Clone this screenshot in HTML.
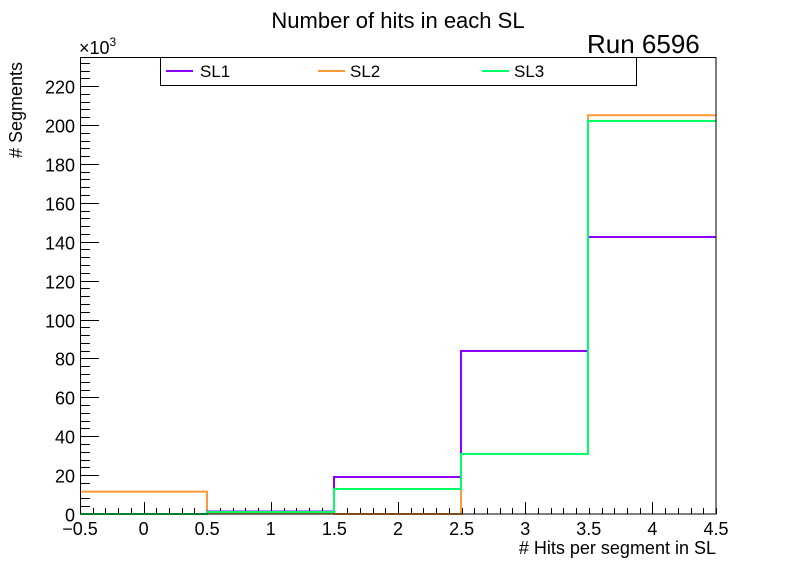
<!DOCTYPE html>
<html><head><style>body{margin:0;background:#fff}svg{display:block}text{font-family:"Liberation Sans",sans-serif}</style></head><body>
<svg width="796" height="572" xmlns="http://www.w3.org/2000/svg">
<rect width="796" height="572" fill="#fff"/>
<text x="398" y="28" font-size="22" text-anchor="middle">Number of hits in each SL</text>
<text x="587" y="53" font-size="26">Run 6596</text>
<g id="ticks" stroke="#000" stroke-width="1"></g>
<g fill="none" stroke-width="2">
<path d="M80,491.6H207V513.5H334V514H461V454H588V115.3H716" stroke="#ff9933"/>
<path d="M80,514H207V511.5H334V477H461V351H588V237H716" stroke="#8c00ff"/>
<path d="M80,514H207V512H334V489H461V454H588V121H716" stroke="#00ff66"/>
</g>
<rect x="80.5" y="57.5" width="635.5" height="456.5" fill="none" stroke="#000"/>
<rect x="160.5" y="57.5" width="476" height="28" fill="#fff" stroke="#000"/>
<line x1="166" y1="71" x2="193" y2="71" stroke="#8c00ff" stroke-width="2"/>
<text x="200" y="77" font-size="17">SL1</text>
<line x1="318" y1="71" x2="345" y2="71" stroke="#ff9933" stroke-width="2"/>
<text x="350" y="77" font-size="17">SL2</text>
<line x1="482" y1="71" x2="509" y2="71" stroke="#00ff66" stroke-width="2"/>
<text x="514" y="77" font-size="17">SL3</text>
<text x="79" y="54" font-size="18">×10<tspan font-size="12" dy="-8">3</tspan></text>
<text transform="translate(22,158) rotate(-90)" font-size="18">#&#160;Segments</text>
<text x="716" y="554" font-size="18" text-anchor="end"># Hits per segment in SL</text>
<g id="yl" font-size="18" text-anchor="end"></g>
<g id="xl" font-size="18" text-anchor="middle"></g>
</svg>
<script>
var ns="http://www.w3.org/2000/svg",t=document.getElementById("ticks"),yl=document.getElementById("yl"),xl=document.getElementById("xl");
function L(a,b,c,d){var l=document.createElementNS(ns,"line");l.setAttribute("x1",a);l.setAttribute("y1",b);l.setAttribute("x2",c);l.setAttribute("y2",d);t.appendChild(l);}
function T(g,x,y,s){var e=document.createElementNS(ns,"text");e.setAttribute("x",x);e.setAttribute("y",y);e.textContent=s;g.appendChild(e);}
for(var v=0;v<=232;v+=4){var y=514-v*1.945;y=Math.round(y)+0.5;if(v%20==0){L(80,y,99,y);T(yl,75,y+7,v);}else L(80,y,90,y);}
for(var i=0;i<=50;i++){var x=Math.round(80+i*12.72)+0.5;var h=(i%10==5)?12:6;L(x,514,x,514-h);}
var labs=["−0.5","0","0.5","1","1.5","2","2.5","3","3.5","4","4.5"];
for(var k=0;k<11;k++)T(xl,80+k*63.6,535,labs[k]);
</script>
</body></html>
